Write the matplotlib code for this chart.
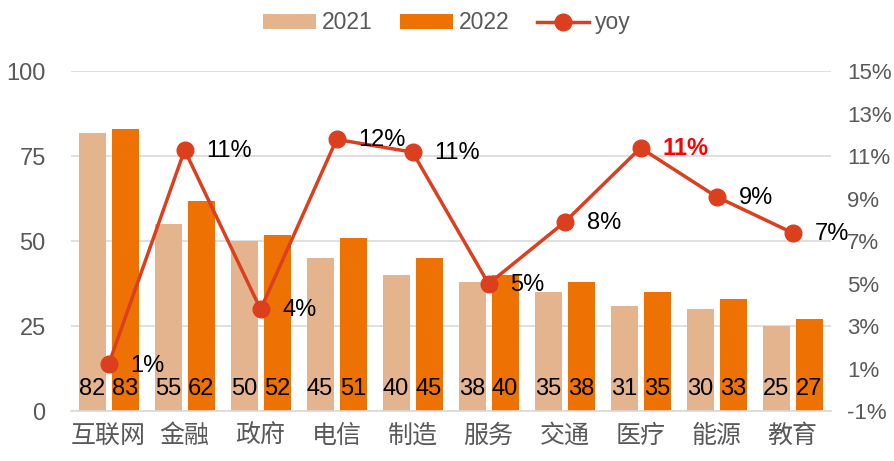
import numpy as np
import matplotlib
matplotlib.use("Agg")
from matplotlib import pyplot as plt
from matplotlib.ticker import FuncFormatter

plt.rcParams['font.family'] = ['Liberation Sans', 'Noto Sans CJK SC', 'DejaVu Sans']

categories = ["互联网", "金融", "政府", "电信", "制造", "服务", "交通", "医疗", "能源", "教育"]
v2021 = [82, 55, 50, 45, 40, 38, 35, 31, 30, 25]
v2022 = [83, 62, 52, 51, 45, 40, 38, 35, 33, 27]
yoy = [1.2, 11.3, 3.8, 11.8, 11.2, 5.0, 7.9, 11.4, 9.1, 7.4]
yoy_labels = ["1%", "11%", "4%", "12%", "11%", "5%", "8%", "11%", "9%", "7%"]

c2021 = "#E4B48E"
c2022 = "#EE7203"
cline = "#DC3F1E"
grey = "#595959"

fig, ax = plt.subplots(figsize=(8.94, 4.61), dpi=100)
fig.subplots_adjust(left=0.079, right=0.929, top=0.845, bottom=0.108)

x = np.arange(len(categories))
w = 0.355
off = 0.217
b1 = ax.bar(x - off, v2021, w, color=c2021, label="2021", zorder=2)
b2 = ax.bar(x + off, v2022, w, color=c2022, label="2022", zorder=2)

# bar values near the bottom of each bar
for rect, v in list(zip(b1, v2021)) + list(zip(b2, v2022)):
    ax.text(rect.get_x() + rect.get_width() / 2, 6.5, str(v), ha="center", va="center",
            fontsize=17, color="black", zorder=5)

ax.set_xlim(-0.5, len(categories) - 0.5)
ax.set_ylim(0, 100)
ax.set_yticks([0, 25, 50, 75, 100])
ax.set_xticks(x)
ax.set_xticklabels(categories, fontsize=18)
ax.yaxis.grid(True, color="#D9D9D9", linewidth=1.2, zorder=0)
ax.set_axisbelow(True)
for s in ["top", "right", "left"]:
    ax.spines[s].set_visible(False)
ax.spines["bottom"].set_color("#D9D9D9")
ax.spines["bottom"].set_linewidth(1.2)
ax.tick_params(axis="both", length=0, colors=grey)
ax.tick_params(axis="y", labelsize=17, pad=18)
ax.tick_params(axis="x", pad=9)

ax2 = ax.twinx()
ax2.set_ylim(-1, 15)
ax2.set_yticks(np.arange(-1, 16, 2))
ax2.yaxis.set_major_formatter(FuncFormatter(lambda v, p: f"{v:.0f}%"))
for s in ["top", "right", "left", "bottom"]:
    ax2.spines[s].set_visible(False)
ax2.tick_params(axis="y", length=0, labelsize=16, colors=grey, pad=12)
ln, = ax2.plot(x, yoy, color=cline, linewidth=2.5, marker="o", markersize=12, label="yoy", zorder=4)

for i, (v, lab) in enumerate(zip(yoy, yoy_labels)):
    red = categories[i] == "医疗"
    ax2.text(x[i] + 0.29, v - 0.05, lab, ha="left", va="center", fontsize=17,
             color="red" if red else "black", fontweight="bold" if red else "normal", zorder=5)

handles = [b1, b2, ln]
fig.legend(handles, ["2021", "2022", "yoy"], loc="upper center", bbox_to_anchor=(0.5, 1.02),
           ncol=3, frameon=False, fontsize=16.5, labelcolor=grey, handlelength=2.3,
           handleheight=0.6, columnspacing=1.2, handletextpad=0.25)

fig.savefig("out.png", dpi=100)
